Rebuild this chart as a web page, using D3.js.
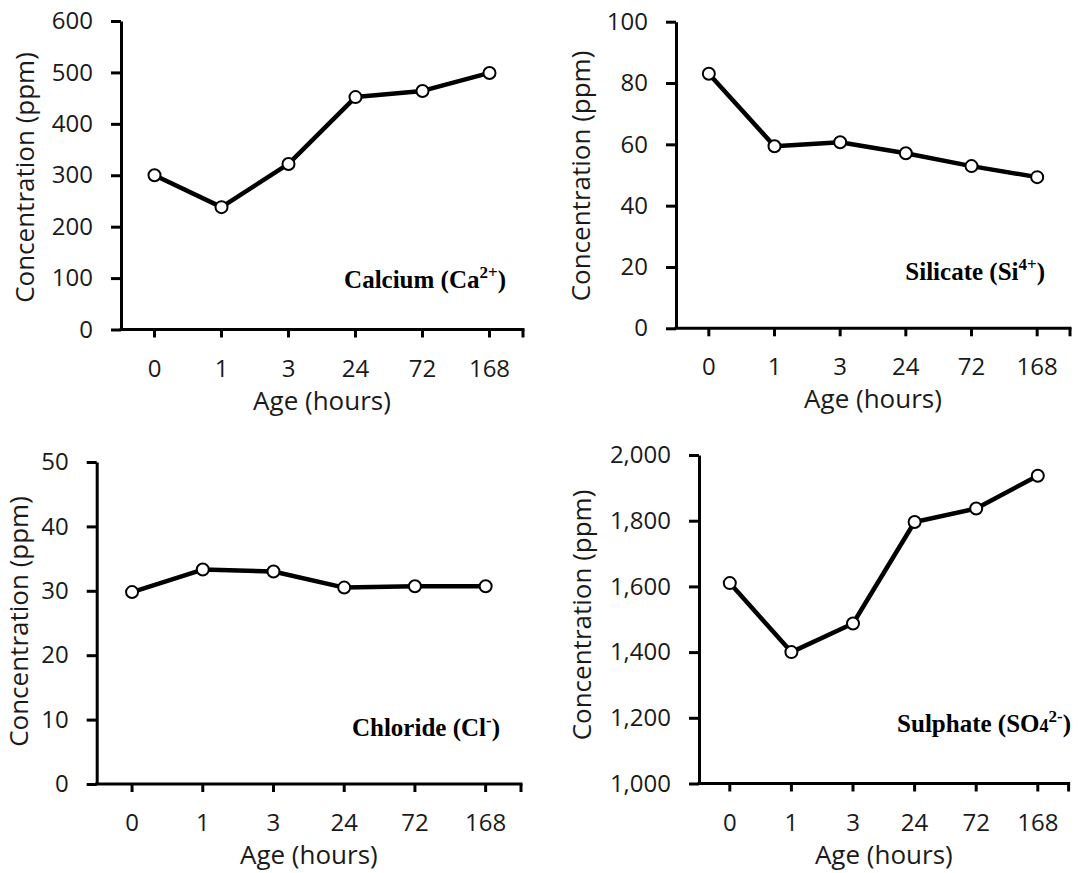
<!DOCTYPE html>
<html>
<head>
<meta charset="utf-8">
<title>Ion concentration vs age</title>
<script src="https://d3js.org/d3.v7.min.js"></script>
<style>
  body { margin: 0; background: #fff; }
  svg text { font-family: "Open Sans", Lato, sans-serif; fill: #1a1a1a; }
  svg text.ion { font-family: "Liberation Serif", "Times New Roman", serif; font-weight: bold; fill: #000; }
</style>
</head>
<body>
<svg width="1079" height="873"></svg>
<script>

// data
const ages = ['0', '1', '3', '24', '72', '168'];
const calcium = [300, 238, 322, 452, 464, 499];
const silicate = [83, 59.4, 60.7, 57.1, 52.9, 49.3];
const chloride = [29.8, 33.3, 33.0, 30.5, 30.7, 30.7];
const sulphate = [1610, 1400, 1487, 1796, 1837, 1937];

const caTicks = [0, 100, 200, 300, 400, 500, 600];
const siTicks = [0, 20, 40, 60, 80, 100];
const clTicks = [0, 10, 20, 30, 40, 50];
const so4Ticks = [1000, 1200, 1400, 1600, 1800, 2000];

const svg = d3.select('svg');

// layout of the four panels
const panels = [
  { values: calcium, ticks: caTicks, fmt: d3.format('d'),
    left: 121, right: 523, top: 21, bottom: 329.5, titleX: 33.5, titleY: 177.5,
    ion: ['Calcium (Ca', '2+', ')'], ionX: 506, ionY: 288 },
  { values: silicate, ticks: siTicks, fmt: d3.format('d'),
    left: 676, right: 1070, top: 21.7, bottom: 328.3, titleX: 590, titleY: 176,
    ion: ['Silicate (Si', '4+', ')'], ionX: 1045, ionY: 280 },
  { values: chloride, ticks: clTicks, fmt: d3.format('d'),
    left: 96.7, right: 521, top: 462, bottom: 784, titleX: 28, titleY: 621.5,
    ion: ['Chloride (Cl', '-', ')'], ionX: 500, ionY: 736 },
  { values: sulphate, ticks: so4Ticks, fmt: d3.format(','),
    left: 699, right: 1068.6, top: 455, bottom: 783.5, titleX: 591, titleY: 615,
    ion: ['Sulphate (SO', '2-', ')'], sub: '4', ionX: 1071, ionY: 731.5 }
];

const drawPanel = (g, p) => {
  const x = d3.scaleBand().domain(ages).range([p.left, p.right]);
  const cx = a => x(a) + x.bandwidth() / 2;
  const y = d3.scaleLinear()
    .domain([p.ticks[0], p.ticks[p.ticks.length - 1]])
    .range([p.bottom, p.top]);

  // y axis
  const yAxis = d3.axisLeft(y)
    .tickValues(p.ticks)
    .tickFormat(p.fmt)
    .tickSize(10)
    .tickPadding(18)
    .tickSizeOuter(0);
  const yg = g.append('g')
    .attr('transform', `translate(${p.left},0)`)
    .call(yAxis);
  yg.selectAll('line, path').attr('stroke', '#000').attr('stroke-width', 3);
  yg.selectAll('text')
    .style('font-size', '24px')
    .style('font-family', '"Open Sans", sans-serif')
    .attr('fill', '#1a1a1a');

  // x axis, ticks at category centres plus the right end
  const xg = g.append('g')
    .attr('transform', `translate(0,${p.bottom})`);
  xg.append('line')
    .attr('x1', p.left - 1.5).attr('x2', p.right + 1.5)
    .attr('stroke', '#000').attr('stroke-width', 3);
  const xTickPos = ages.map(cx).concat([p.right]);
  xg.selectAll('.xt').data(xTickPos).enter().append('line')
    .attr('x1', d => d).attr('x2', d => d)
    .attr('y1', 0).attr('y2', 8)
    .attr('stroke', '#000').attr('stroke-width', 3);
  xg.selectAll('.xl').data(ages).enter().append('text')
    .attr('x', cx)
    .attr('y', 47)
    .attr('text-anchor', 'middle')
    .style('font-size', '24px')
    .text(d => d);

  // axis titles
  g.append('text')
    .attr('x', (p.left + p.right) / 2)
    .attr('y', p.bottom + 80)
    .attr('text-anchor', 'middle')
    .style('font-size', '26px')
    .text('Age (hours)');
  g.append('text')
    .attr('transform', `translate(${p.titleX},${p.titleY}) rotate(-90)`)
    .attr('text-anchor', 'middle')
    .style('font-size', '26px')
    .text('Concentration (ppm)');

  // line + markers
  const pts = ages.map((a, i) => [cx(a), y(p.values[i])]);
  g.append('path')
    .attr('d', d3.line()(pts))
    .attr('fill', 'none')
    .attr('stroke', '#000')
    .attr('stroke-width', 4.5)
    .attr('stroke-linejoin', 'round');
  g.selectAll('circle').data(pts).enter().append('circle')
    .attr('cx', d => d[0]).attr('cy', d => d[1])
    .attr('r', 6)
    .attr('fill', '#fff')
    .attr('stroke', '#000')
    .attr('stroke-width', 2);

  // ion label
  const t = g.append('text')
    .attr('class', 'ion')
    .attr('x', p.ionX).attr('y', p.ionY)
    .attr('text-anchor', 'end')
    .style('font-size', '25px');
  t.append('tspan').text(p.ion[0]);
  if (p.sub) t.append('tspan').style('font-size', '18px').text(p.sub);
  t.append('tspan').attr('dy', -10).style('font-size', '17px').text(p.ion[1]);
  t.append('tspan').attr('dy', 10).text(p.ion[2]);
};

panels.forEach(p => drawPanel(svg.append('g'), p));

</script>
</body>
</html>
